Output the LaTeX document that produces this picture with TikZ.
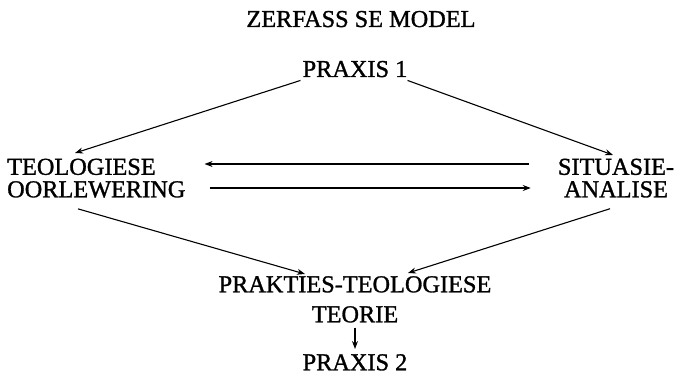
\documentclass[tikz,border=0pt]{standalone}
\usepackage{fontspec}
\setmainfont{Liberation Serif}[FakeBold=1.2]
\usetikzlibrary{arrows.meta}
\begin{document}
\begin{tikzpicture}[x=1pt,y=-1pt,
  lbl/.style={inner sep=0pt, font=\fontsize{24.3}{22.5}\selectfont},
  conn/.style={line width=1.1pt, -{Stealth[length=8pt,width=6pt]}}]
\useasboundingbox (0,0) rectangle (674,374);
\node[lbl, anchor=base] (title) at (361,27) {ZERFASS SE MODEL};
\node[lbl, anchor=base] (p1) at (355,77) {PRAXIS 1};
\node[lbl, anchor=north west, align=left] (teo) at (7,158.5) {TEOLOGIESE\\OORLEWERING};
\node[lbl, anchor=north, align=center] (sit) at (616,158.5) {SITUASIE-\\ANALISE};
\node[lbl, anchor=north, align=center, font=\fontsize{24.3}{30}\selectfont] (pr) at (355,276) {PRAKTIES-TEOLOGIESE\\TEORIE};
\node[lbl, anchor=north] (p2) at (355,354) {PRAXIS 2};
\draw[conn] ([shift={(-2,3)}]p1.south west) -- ([shift={(68,-5.5)}]teo.north west);
\draw[conn] ([shift={(0,3)}]p1.south east) -- ([shift={(-3,-3.5)}]sit.north);
\draw[conn] ([shift={(-29,5.5)}]sit.north west) -- ([shift={(19,5.5)}]teo.north east);
\draw[conn] ([shift={(24,29.5)}]teo.north east) -- ([shift={(-27,29.5)}]sit.north west);
\draw[conn] ([shift={(71,11)}]teo.south west) -- ([shift={(-50,-2)}]pr.north);
\draw[conn] ([shift={(-6,11)}]sit.south) -- ([shift={(53,-3)}]pr.north);
\draw[conn] ([shift={(0,5)}]pr.south) -- ([shift={(0,-5)}]pr.south |- p2.north);
\end{tikzpicture}
\end{document}
